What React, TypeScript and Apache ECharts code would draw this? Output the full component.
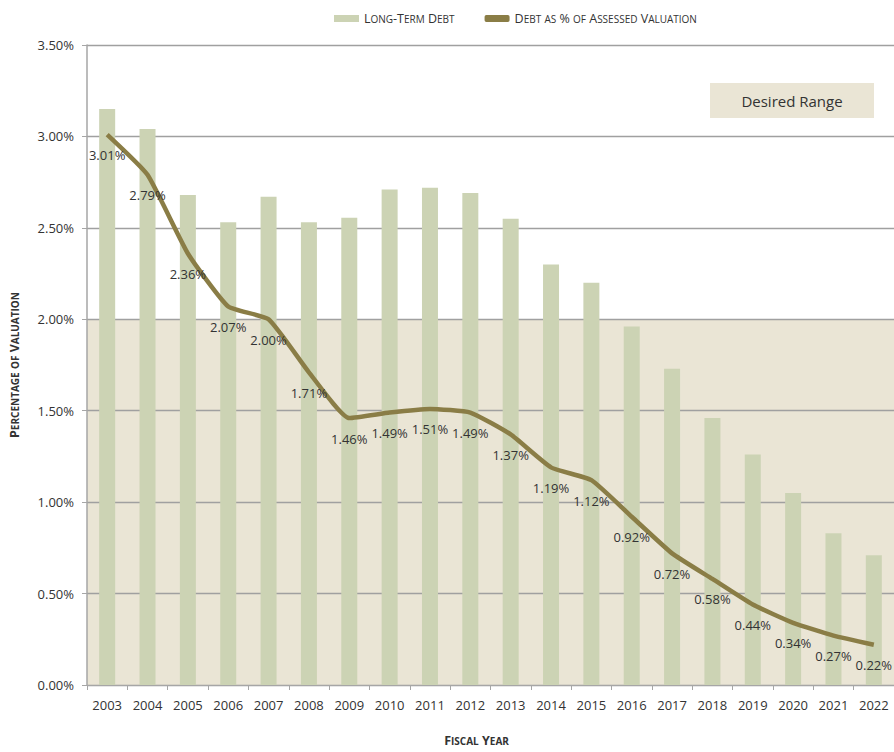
import React, { useEffect, useRef } from "react";
import * as echarts from "echarts";

const years = ["2003", "2004", "2005", "2006", "2007", "2008", "2009", "2010", "2011", "2012", "2013", "2014", "2015", "2016", "2017", "2018", "2019", "2020", "2021", "2022"];
const longTermDebt = [3.15, 3.04, 2.68, 2.53, 2.67, 2.53, 2.555, 2.71, 2.72, 2.69, 2.55, 2.3, 2.2, 1.96, 1.73, 1.46, 1.26, 1.05, 0.83, 0.71];
const debtPctValuation = [3.01, 2.79, 2.36, 2.07, 2.0, 1.71, 1.46, 1.49, 1.51, 1.49, 1.37, 1.19, 1.12, 0.92, 0.72, 0.58, 0.44, 0.34, 0.27, 0.22];
const desiredRange = [0, 2.0];
const yMin = 0;
const yMax = 3.5;
const yStep = 0.5;

const FONT = "'Open Sans', 'Liberation Sans', sans-serif";

function smallCaps(s: string): string {
  let out = "";
  let i = 0;
  while (i < s.length) {
    const ch = s[i];
    const isLower = ch !== ch.toUpperCase();
    let j = i;
    while (j < s.length && (s[j] !== s[j].toUpperCase()) === isLower) j++;
    const run = s.slice(i, j);
    out += isLower ? `{s|${run.toUpperCase()}}` : `{b|${run}}`;
    i = j;
  }
  return out;
}

export default function App() {
  const ref = useRef<HTMLDivElement>(null);
  useEffect(() => {
    if (!ref.current) return;
    const chart = echarts.init(ref.current, undefined, { renderer: "svg" });
    const legendRich = {
      b: { fontFamily: FONT, fontSize: 12.5, color: "#333" },
      s: { fontFamily: FONT, fontSize: 10, color: "#333" },
    };
    const nameRich = {
      b: { fontFamily: FONT, fontSize: 12.5, fontWeight: "bold", color: "#333" },
      s: { fontFamily: FONT, fontSize: 10, fontWeight: "bold", color: "#333" },
    };
    chart.setOption({
      animation: false,
      backgroundColor: "#ffffff",
      legend: {
        top: 7,
        left: 329,
        itemWidth: 25,
        itemHeight: 7,
        itemGap: 30,
        itemTextGap: 6,
        formatter: (n: string) => smallCaps(n),
        textStyle: { rich: legendRich },
        data: [
          { name: "Long-Term Debt", icon: "rect" },
          { name: "Debt as % of Assessed Valuation", icon: "roundRect" },
        ],
      },
      grid: { left: 87, top: 45, width: 816, height: 644 },
      xAxis: {
        type: "category",
        data: years,
        name: smallCaps("Fiscal Year"),
        nameLocation: "middle",
        nameGap: 49,
        nameTextStyle: { rich: nameRich, padding: [0, 28, 0, 0] },
        axisLine: { lineStyle: { color: "#A6A6A6", width: 1 } },
        axisTick: { show: true, length: 5, lineStyle: { color: "#A6A6A6" } },
        axisLabel: { color: "#333", fontFamily: FONT, fontSize: 13, margin: 13 },
        z: 3,
      },
      yAxis: {
        type: "value",
        min: yMin,
        max: yMax,
        interval: yStep,
        name: smallCaps("Percentage of Valuation"),
        nameLocation: "middle",
        nameRotate: 90,
        nameGap: 66,
        nameTextStyle: { rich: nameRich },
        axisLine: { show: true, lineStyle: { color: "#A6A6A6", width: 1.5 } },
        axisTick: { show: true, length: 5, lineStyle: { color: "#A6A6A6" } },
        axisLabel: {
          color: "#333",
          fontFamily: FONT,
          fontSize: 13,
          margin: 13,
          formatter: (v: number) => v.toFixed(2) + "%",
        },
        splitLine: { show: true, lineStyle: { color: "#A0A0A0", width: 1.3 } },
        z: 1,
      },
      series: [
        {
          name: "range",
          type: "line",
          data: [],
          z: 0,
          silent: true,
          markArea: {
            silent: true,
            z: 0,
            itemStyle: { color: "#EAE5D5" },
            data: [[{ yAxis: desiredRange[0] }, { yAxis: desiredRange[1] }]],
          },
        },
        {
          name: "Long-Term Debt",
          type: "bar",
          data: longTermDebt,
          barWidth: 16,
          itemStyle: { color: "#CCD3B4" },
          z: 2,
        },
        {
          name: "Debt as % of Assessed Valuation",
          type: "line",
          data: debtPctValuation,
          symbol: "circle",
          symbolSize: 0.01,
          showSymbol: true,
          showAllSymbol: true,
          smooth: 0.15,
          lineStyle: { color: "#8A7D46", width: 4.5 },
          itemStyle: { color: "#8A7D46" },
          z: 4,
          label: {
            show: true,
            position: "bottom",
            distance: 14,
            color: "#333",
            fontFamily: FONT,
            fontSize: 13,
            formatter: (p: any) => Number(p.value).toFixed(2) + "%",
          },
          labelLayout: { hideOverlap: false },
        },
      ],
      graphic: [
        {
          type: "group",
          left: 710,
          top: 83,
          children: [
            { type: "rect", shape: { x: 0, y: 0, width: 164, height: 35 }, style: { fill: "#EAE5D5" } },
            {
              type: "text",
              x: 82,
              y: 17.5,
              style: {
                text: "Desired Range",
                fill: "#333",
                font: `15px ${FONT}`,
                align: "center",
                verticalAlign: "middle",
              },
            },
          ],
        },
      ],
    });
    return () => chart.dispose();
  }, []);
  return (
    <div
      ref={ref}
      style={{ position: "fixed", left: 0, top: 0, width: 894, height: 752, overflow: "hidden" }}
    />
  );
}
